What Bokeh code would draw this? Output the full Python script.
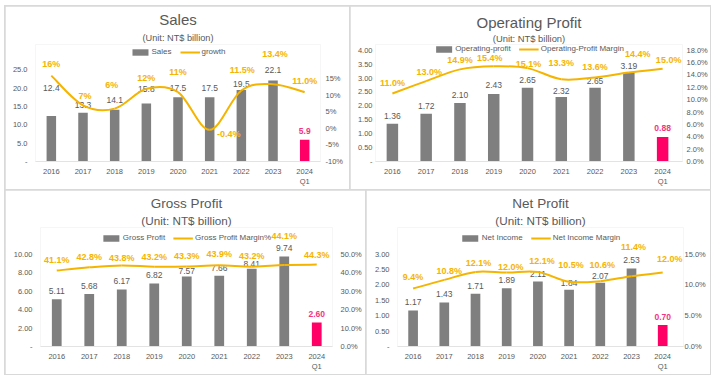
from bokeh.plotting import figure
from bokeh.models import (Range1d, LinearAxis, FixedTicker, Title, Legend,
                          LegendItem, ColumnDataSource, Spacer)
from bokeh.layouts import row, column
from bokeh.embed import file_html
from bokeh.resources import INLINE
from bokeh.core.properties import value

# ---------------- data ----------------
periods = ["2016", "2017", "2018", "2019", "2020", "2021", "2022", "2023", "2024\nQ1"]

sales = [12.4, 13.3, 14.1, 15.8, 17.5, 17.5, 19.5, 22.1, 5.9]
sales_growth = [16, 7, 6, 12, 11, -0.4, 11.5, 13.4, 11.0]
sales_growth_text = ["16%", "7%", "6%", "12%", "11%", "-0.4%", "11.5%", "13.4%", "11.0%"]
sales_left_ticks = [0, 5, 10, 15, 20, 25]
sales_left_labels = ["-", "5.0", "10.0", "15.0", "20.0", "25.0"]
sales_right_ticks = [-10, -5, 0, 5, 10, 15]
sales_right_labels = ["-10%", "-5%", "0%", "5%", "10%", "15%"]

op_profit = [1.36, 1.72, 2.10, 2.43, 2.65, 2.32, 2.65, 3.19, 0.88]
op_margin = [11.0, 13.0, 14.9, 15.4, 15.1, 13.3, 13.6, 14.4, 15.0]
op_left_ticks = [0, 0.5, 1, 1.5, 2, 2.5, 3, 3.5, 4]
op_left_labels = ["-", "0.50", "1.00", "1.50", "2.00", "2.50", "3.00", "3.50", "4.00"]
op_right_ticks = [0, 2, 4, 6, 8, 10, 12, 14, 16, 18]
op_right_labels = ["0.0%", "2.0%", "4.0%", "6.0%", "8.0%", "10.0%", "12.0%", "14.0%", "16.0%", "18.0%"]

gross_profit = [5.11, 5.68, 6.17, 6.82, 7.57, 7.66, 8.41, 9.74, 2.60]
gross_margin = [41.1, 42.8, 43.8, 43.2, 43.3, 43.9, 43.2, 44.1, 44.3]
gross_left_ticks = [0, 2, 4, 6, 8, 10]
gross_left_labels = ["-", "2.00", "4.00", "6.00", "8.00", "10.00"]
gross_right_ticks = [0, 10, 20, 30, 40, 50]
gross_right_labels = ["0.0%", "10.0%", "20.0%", "30.0%", "40.0%", "50.0%"]

net_income = [1.17, 1.43, 1.71, 1.89, 2.11, 1.84, 2.07, 2.53, 0.70]
net_margin = [9.4, 10.8, 12.1, 12.0, 12.1, 10.5, 10.6, 11.4, 12.0]
net_left_ticks = [0, 0.5, 1, 1.5, 2, 2.5, 3]
net_left_labels = ["-", "0.50", "1.00", "1.50", "2.00", "2.50", "3.00"]
net_right_ticks = [0, 5, 10, 15]
net_right_labels = ["0.0%", "5.0%", "10.0%", "15.0%"]

# ---------------- style ----------------
FONT = "Liberation Sans"
GRAY_BAR = "#7f7f7f"
PINK = "#ff0066"
PINK_TXT = "#f2357f"
GOLD = "#f5b400"
TXT = "#595959"


def smooth_segments(xs, ys):
    n = len(xs)
    out = {k: [] for k in ("x0", "y0", "x1", "y1", "cx0", "cy0", "cx1", "cy1")}
    for i in range(n - 1):
        a = max(i - 1, 0)
        d = min(i + 2, n - 1)
        out["x0"].append(xs[i]); out["y0"].append(ys[i])
        out["x1"].append(xs[i + 1]); out["y1"].append(ys[i + 1])
        out["cx0"].append(xs[i] + (xs[i + 1] - xs[a]) / 6)
        out["cy0"].append(ys[i] + (ys[i + 1] - ys[a]) / 6)
        out["cx1"].append(xs[i + 1] - (xs[d] - xs[i]) / 6)
        out["cy1"].append(ys[i + 1] - (ys[d] - ys[i]) / 6)
    return out


def style_axis(ax, standoff):
    ax.axis_line_color = None
    ax.major_tick_line_color = None
    ax.minor_tick_line_color = None
    ax.major_tick_out = 0
    ax.major_tick_in = 0
    ax.major_label_text_font = FONT
    ax.major_label_text_font_size = "7.5px"
    ax.major_label_text_color = TXT
    ax.major_label_standoff = standoff


def make_panel(title, subtitle, bars, bar_fmt, line, line_text, bar_name, line_name,
               lticks, llabels, rticks, rlabels, g):
    W, H = g["W"], g["H"]
    bl, br, bt, bb = g["border"]
    fh = H - bt - bb
    fw = W - bl - br
    x_end = -0.5 + fw / g["x_px"]
    p = figure(width=W, height=H, output_backend="svg", toolbar_location=None,
               x_range=Range1d(-0.5, x_end), y_range=Range1d(0, fh / g["l_px"]),
               min_border_left=bl, min_border_right=br, min_border_top=bt,
               min_border_bottom=bb, title=None)
    p.extra_y_ranges = {"r": Range1d(g["r_bot"], g["r_bot"] + fh / g["r_px"])}
    p.outline_line_color = None
    p.background_fill_color = "white"
    p.border_fill_color = "white"
    p.xgrid.visible = False
    p.ygrid.visible = False

    xs = list(range(len(periods)))
    n = len(xs)
    src = ColumnDataSource(dict(
        x=xs, v=bars, t=[bar_fmt.format(b) for b in bars],
        c=[GRAY_BAR] * (n - 1) + [PINK],
        tc=[TXT] * (n - 1) + [PINK_TXT],
        fs=["normal"] * (n - 1) + ["bold"],
        dy=g["bar_dy"],
    ))
    bars_r = p.vbar(x="x", top="v", width=g["bar_w"], fill_color="c", line_color=None, source=src)
    p.text(x="x", y="v", text="t", y_offset="dy", text_align="center", text_baseline="middle",
           text_font=value(FONT), text_font_size=g["bar_fs"], text_color="tc",
           text_font_style="fs", source=src)

    seg = smooth_segments(xs, line)
    line_r = p.bezier(source=ColumnDataSource(seg), x0="x0", y0="y0", x1="x1", y1="y1",
                      cx0="cx0", cy0="cy0", cx1="cx1", cy1="cy1", y_range_name="r",
                      line_color=GOLD, line_width=2)
    lsrc = ColumnDataSource(dict(x=xs, y=line, t=line_text, dx=g["line_dx"], dy=g["line_dy"]))
    p.text(x="x", y="y", text="t", x_offset="dx", y_offset="dy", y_range_name="r",
           text_align="center", text_baseline="middle", text_font=value(FONT),
           text_font_size="9px", text_font_style="bold", text_color=GOLD, source=lsrc)

    # axes
    xa = p.xaxis[0]
    style_axis(xa, 5)
    xa.axis_line_color = "#e3e3e3"
    xa.ticker = FixedTicker(ticks=xs)
    xa.major_label_overrides = {i: periods[i] for i in xs}

    la = p.left[0]
    style_axis(la, g["l_standoff"])
    la.ticker = FixedTicker(ticks=lticks)
    la.major_label_overrides = dict(zip(lticks, llabels))

    ra = LinearAxis(y_range_name="r")
    style_axis(ra, g["r_standoff"])
    ra.ticker = FixedTicker(ticks=rticks)
    ra.major_label_overrides = dict(zip(rticks, rlabels))
    p.add_layout(ra, "right")

    # titles
    p.add_layout(Title(text=subtitle, align="center", text_font=FONT, text_color=TXT,
                       text_font_style="normal", text_font_size=g["sub_fs"],
                       standoff=g["sub_standoff"], offset=g["t_offset"]), "above")
    p.add_layout(Title(text=title, align="center", text_font=FONT, text_color=TXT,
                       text_font_style="normal", text_font_size=g["title_fs"],
                       standoff=g["title_standoff"], offset=g["t_offset"]), "above")

    leg = Legend(items=[LegendItem(label=bar_name, renderers=[bars_r], index=0),
                        LegendItem(label=line_name, renderers=[line_r])],
                 orientation="horizontal", location="top_center", margin=g["leg_margin"],
                 padding=0, spacing=8, glyph_width=20, glyph_height=8, label_height=9,
                 label_standoff=2, label_text_font=FONT, label_text_font_size="8px",
                 label_text_color=TXT, border_line_color=None, background_fill_alpha=0)
    p.add_layout(leg)
    return p


g_sales = dict(W=344, H=183, border=(30, 29, 38, 26), x_px=31.67, l_px=3.73, r_px=3.36,
               r_bot=-10, bar_w=0.3, l_standoff=8, r_standoff=5,
               bar_fs="8.5px", title_fs="15px", sub_fs="9.2px",
               title_standoff=2, sub_standoff=4, t_offset=0, leg_margin=3,
               bar_dy=[-28, -8, -10, -15, -9, -9, -6, -10, -9],
               line_dx=[0, 2, -3, 0, 0, 19, 1, 2, 0],
               line_dy=[-12, -9, -24, -11, -20, 4, -20, -30, -11])
g_op = dict(W=360, H=183, border=(25, 26, 31, 26), x_px=34.0, l_px=29.95, r_px=6.66,
            r_bot=0, bar_w=0.34, l_standoff=3, r_standoff=4,
            bar_fs="8.5px", title_fs="15px", sub_fs="9.4px",
            title_standoff=0, sub_standoff=1, t_offset=-5, leg_margin=0,
            bar_dy=[-8, -8, -8, -9, -8, -6, -7, -7, -9],
            line_dx=[0, 3, 0, -4, 1, 0, 0, 9, 6],
            line_dy=[-10, -9, -9, -8, -4, -16, -10, -18, -9])
g_gross = dict(W=360, H=184, border=(35, 33, 37, 26), x_px=32.5, l_px=9.4, r_px=1.88,
               r_bot=0, bar_w=0.3, l_standoff=8, r_standoff=8,
               bar_fs="8.5px", title_fs="13.5px", sub_fs="11.7px",
               title_standoff=0, sub_standoff=2, t_offset=0, leg_margin=6,
               bar_dy=[-8, -8, -8, -8, -6, -8, -5, -8, -8],
               line_dx=[0, 0, 0, 0, 0, 0, 0, 0, 0],
               line_dy=[-11, -10, -8, -10, -10, -11, -11, -29, -10])
g_net = dict(W=344, H=184, border=(31, 27, 37, 26), x_px=31.2, l_px=31.33, r_px=6.27,
             r_bot=0, bar_w=0.31, l_standoff=8, r_standoff=1,
             bar_fs="8.5px", title_fs="13.5px", sub_fs="11.7px",
             title_standoff=0, sub_standoff=2, t_offset=0, leg_margin=6,
             bar_dy=[-8, -8, -8, -8, -7, -7, -7, -9, -8],
             line_dx=[0, 5, 3, 4, 4, 2, 2, 2, 7],
             line_dy=[-12, -9, -9, -6, -11, -17, -16, -29, -14])

p1 = make_panel("Sales", "(Unit: NT$ billion)", sales, "{:.1f}", sales_growth, sales_growth_text,
                "Sales", "growth", sales_left_ticks, sales_left_labels,
                sales_right_ticks, sales_right_labels, g_sales)
p2 = make_panel("Operating Profit", "(Unit: NT$ billion)", op_profit, "{:.2f}", op_margin,
                ["{:.1f}%".format(m) for m in op_margin], "Operating-profit",
                "Operating-Profit Margin", op_left_ticks, op_left_labels,
                op_right_ticks, op_right_labels, g_op)
p3 = make_panel("Gross Profit", "(Unit: NT$ billion)", gross_profit, "{:.2f}", gross_margin,
                ["{:.1f}%".format(m) for m in gross_margin], "Gross Profit",
                "Gross Profit Margin%", gross_left_ticks, gross_left_labels,
                gross_right_ticks, gross_right_labels, g_gross)
p4 = make_panel("Net Profit", "(Unit: NT$ billion)", net_income, "{:.2f}", net_margin,
                ["{:.1f}%".format(m) for m in net_margin], "Net Income",
                "Net Income Margin", net_left_ticks, net_left_labels,
                net_right_ticks, net_right_labels, g_net)

grid = column(row(p1, p2, spacing=1), row(p3, p4, spacing=1), spacing=1,
              styles={"background-color": "#d9d9d9", "padding": "1px"})

page = column(Spacer(width=10, height=5), row(Spacer(width=4, height=10), grid))

html = file_html(page, INLINE, title="Financials")
open("out.html", "w").write(html)
